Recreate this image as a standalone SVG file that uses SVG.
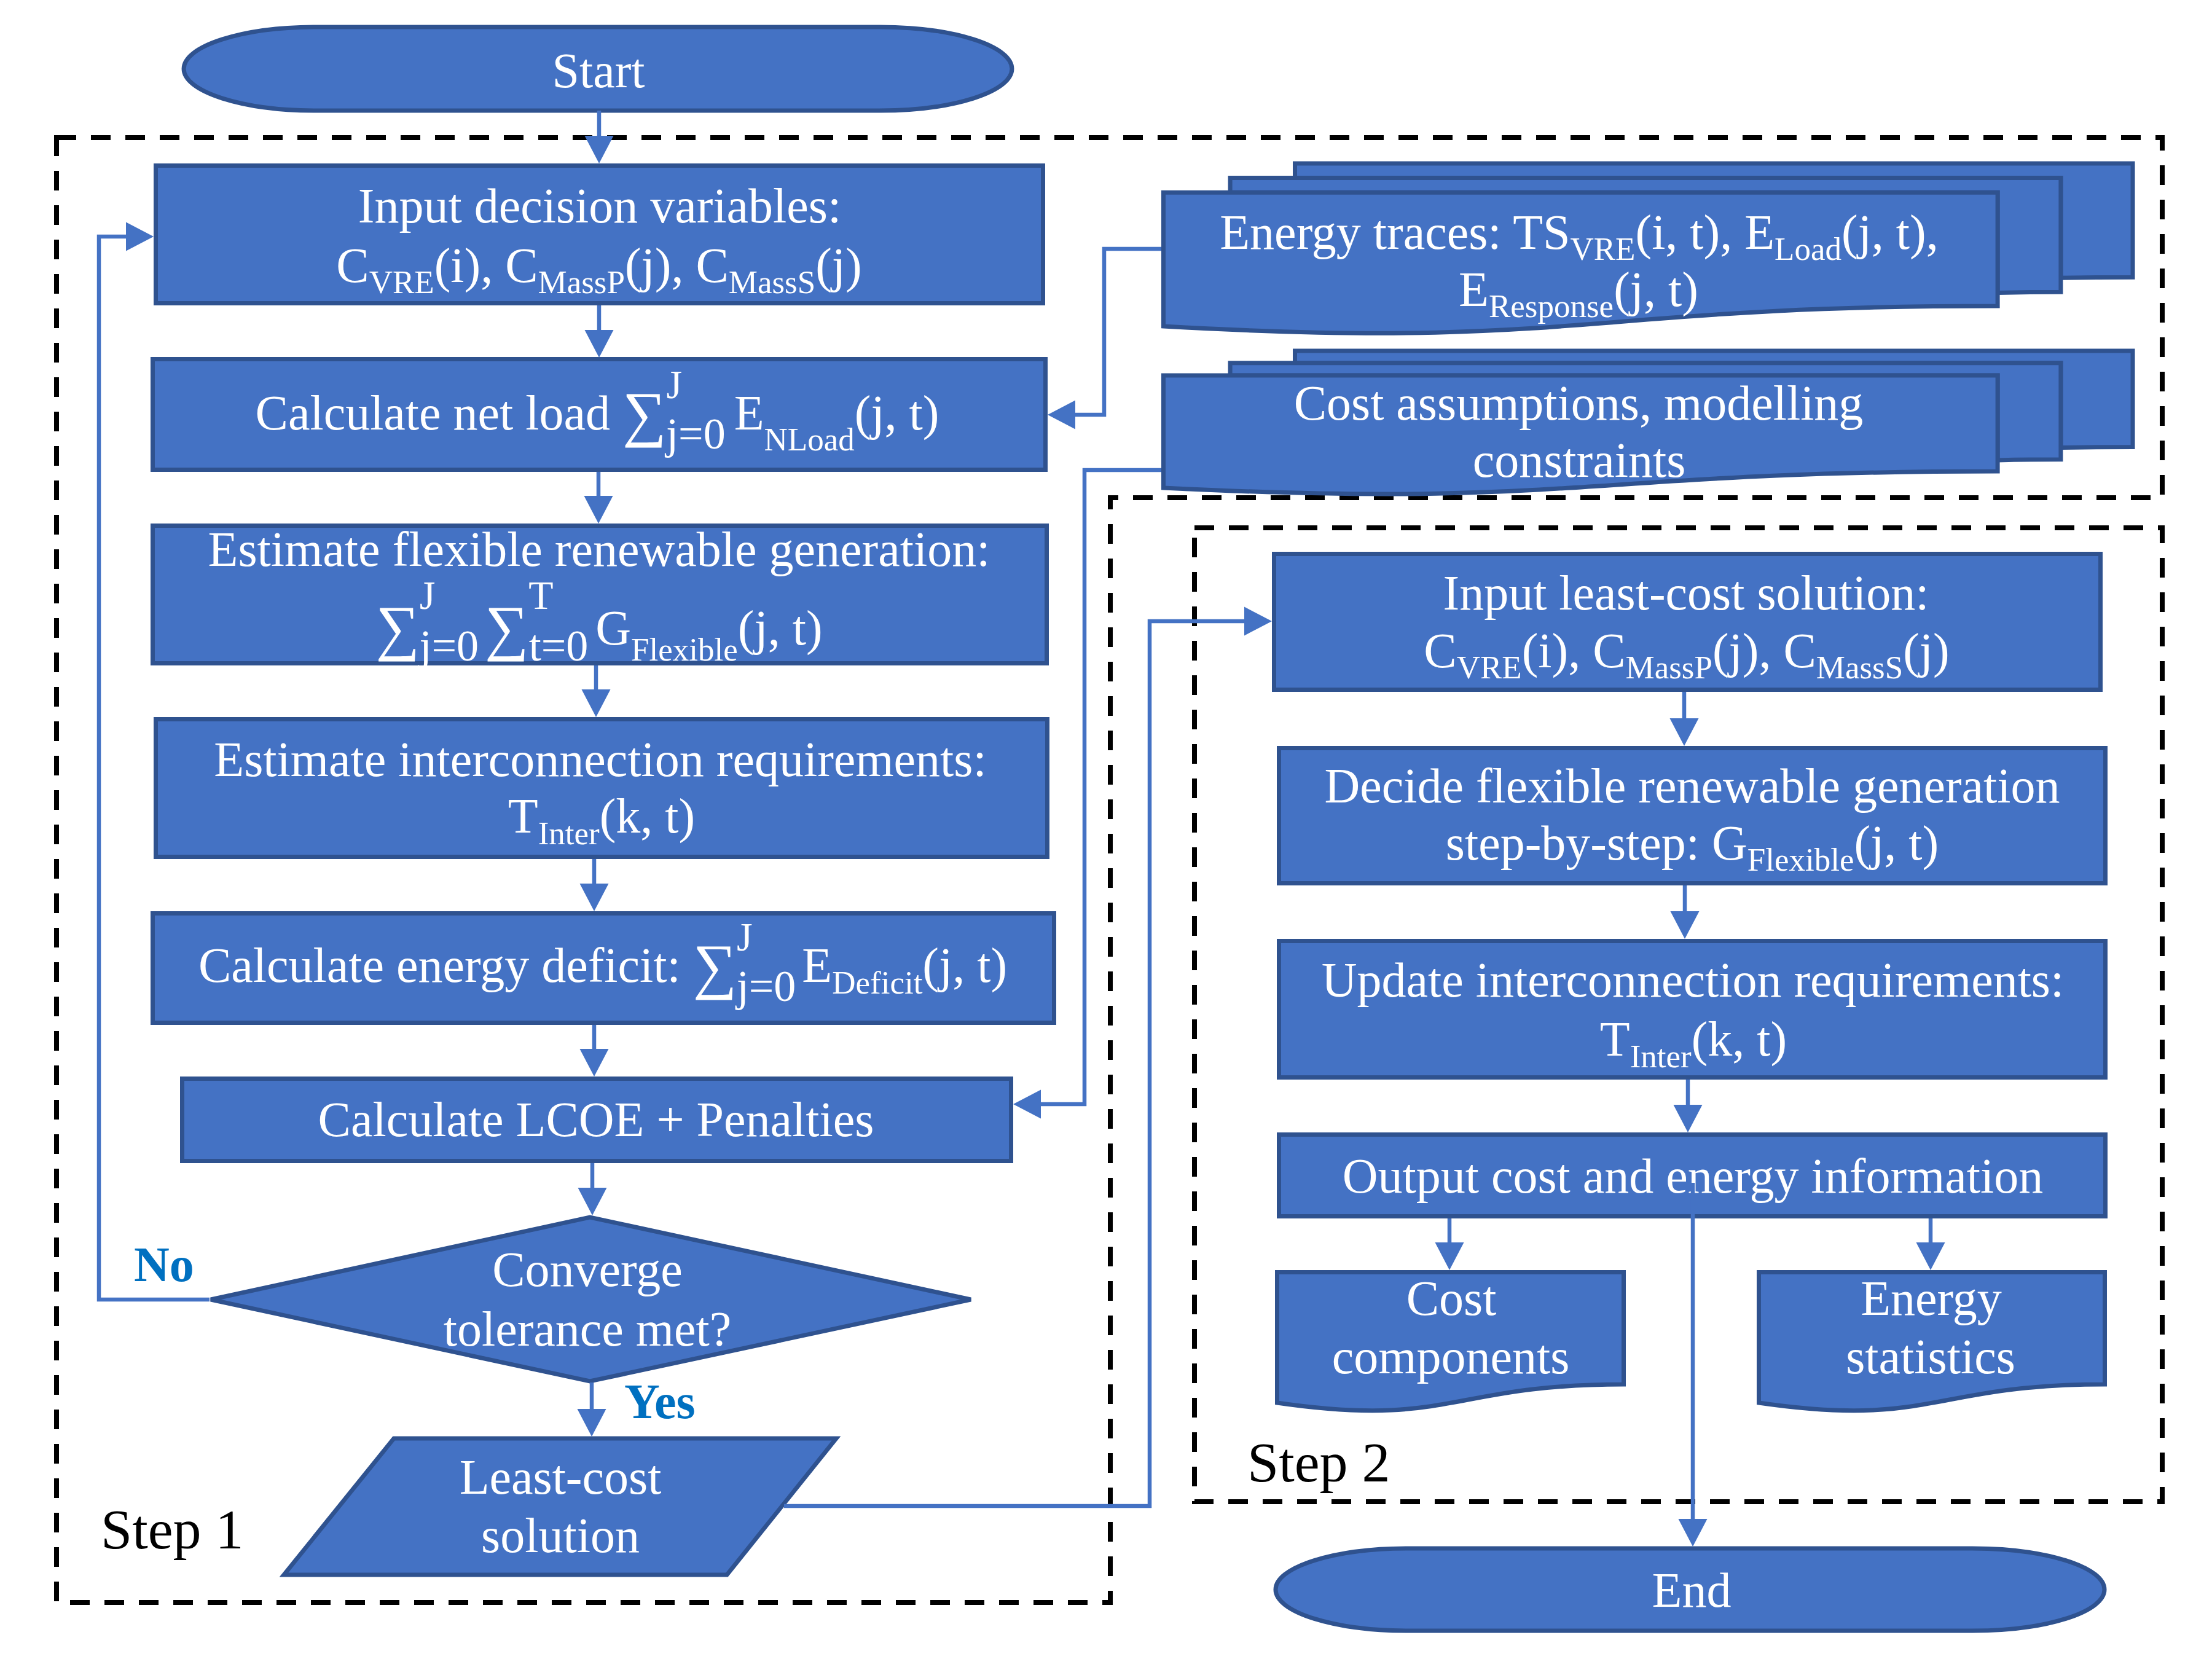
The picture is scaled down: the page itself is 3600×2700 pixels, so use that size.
<svg xmlns="http://www.w3.org/2000/svg" width="3600" height="2700" viewBox="0 0 3600 2700">
  <style>
    .node { fill: #4472C4; stroke: #2F528F; stroke-width: 7; }
    .t { font-family: "Liberation Serif", "Times New Roman", serif; font-size: 80px; fill: #ffffff; text-anchor: middle; }
    .s { font-size: 53px; }
    .sup { font-size: 66px; }
    .lim { font-size: 72px; }
    .big { font-size: 100px; }
    .step { font-family: "Liberation Serif", "Times New Roman", serif; font-size: 92px; fill: #000000; }
    .lbl { font-family: "Liberation Serif", "Times New Roman", serif; font-size: 80px; font-weight: bold; fill: #0070C0; }
    .frame { fill: none; stroke: #000000; stroke-width: 8; stroke-dasharray: 32 24; }
    .conn { fill: none; stroke: #4472C4; stroke-width: 6.5; marker-end: url(#ah); }
  </style>
  <defs>
    <marker id="ah" markerUnits="userSpaceOnUse" markerWidth="50" markerHeight="50" refX="25" refY="23.5" orient="auto" overflow="visible">
      <path d="M0,0 L45,23.5 L0,47 Z" fill="#4472C4"/>
    </marker>
  </defs>
  <rect width="3600" height="2700" fill="#ffffff"/>

  <!-- stage frames -->
  <g id="frames">
    <path class="frame" d="M92,224 H3519 V810 H1807 V2608 H92 Z"/>
    <rect class="frame" x="1944" y="859" width="1575" height="1585"/>
    <text class="step" x="164" y="2520">Step 1</text>
    <text class="step" x="2030" y="2411">Step 2</text>
  </g>

  <!-- step 1 -->
  <g id="start">
    <path class="node" d="M514,44 H1432 A215 68 0 0 1 1432,180 H514 A215 68 0 0 1 514,44 Z"/>
    <text class="t" x="974" y="142">Start</text>
  </g>

  <g id="input-decision">
    <rect class="node" x="253.5" y="269.5" width="1444" height="224"/>
    <text class="t" x="976" y="362">Input decision variables:</text>
    <text class="t" x="975" y="459">C<tspan class="s" dy="18">VRE</tspan><tspan dy="-18">(i), C</tspan><tspan class="s" dy="18">MassP</tspan><tspan dy="-18">(j), C</tspan><tspan class="s" dy="18">MassS</tspan><tspan dy="-18">(j)</tspan></text>
  </g>

  <g id="net-load">
    <rect class="node" x="248.5" y="584.5" width="1453" height="180"/>
    <text class="t" x="972" y="699">Calculate net load <tspan class="big" dy="8">∑</tspan><tspan class="sup" dy="-59">J</tspan><tspan class="lim" dx="-26" dy="82">j=0</tspan><tspan dx="14" dy="-31">E</tspan><tspan class="s" dy="34">NLoad</tspan><tspan dy="-34">(j, t)</tspan></text>
  </g>

  <g id="flex-gen">
    <rect class="node" x="248.5" y="855.5" width="1455" height="224"/>
    <text class="t" x="975" y="921">Estimate flexible renewable generation:</text>
    <text class="t" x="975" y="1049"><tspan class="big" dy="6">∑</tspan><tspan class="sup" dy="-64">J</tspan><tspan class="lim" dx="-26" dy="84">j=0</tspan><tspan class="big" dx="10" dy="-20">∑</tspan><tspan class="sup" dy="-64">T</tspan><tspan class="lim" dx="-40" dy="84">t=0</tspan><tspan dx="12" dy="-26">G</tspan><tspan class="s" dy="26">Flexible</tspan><tspan dy="-26">(j, t)</tspan></text>
  </g>

  <g id="interconnection">
    <rect class="node" x="253.5" y="1170.5" width="1451" height="224"/>
    <text class="t" x="977" y="1263">Estimate interconnection requirements:</text>
    <text class="t" x="979" y="1355">T<tspan class="s" dy="19">Inter</tspan><tspan dy="-19">(k, t)</tspan></text>
  </g>

  <g id="deficit">
    <rect class="node" x="248.5" y="1486.5" width="1467" height="178"/>
    <text class="t" x="981" y="1598">Calculate energy deficit: <tspan class="big" dy="8">∑</tspan><tspan class="sup" dy="-59">J</tspan><tspan class="lim" dx="-26" dy="82">j=0</tspan><tspan dx="10" dy="-31">E</tspan><tspan class="s" dy="19">Deficit</tspan><tspan dy="-19">(j, t)</tspan></text>
  </g>

  <g id="lcoe">
    <rect class="node" x="296.5" y="1755.5" width="1349" height="134"/>
    <text class="t" x="970" y="1849">Calculate LCOE + Penalties</text>
  </g>

  <g id="converge">
    <polygon class="node" points="343,2115 960,1981 1580,2115 960,2248"/>
    <text class="t" x="956" y="2093">Converge</text>
    <text class="t" x="956" y="2190">tolerance met?</text>
  </g>

  <g id="least-cost">
    <polygon class="node" points="641,2341 1361,2341 1183,2563 462,2563"/>
    <text class="t" x="912" y="2431">Least-cost</text>
    <text class="t" x="912" y="2526">solution</text>
  </g>

  <!-- data inputs -->
  <g id="energy-traces">
    <path class="node" d="M2107.5,289.4 V266 H3471 V451.2 C3412.5,451.2 3353.9,452.2 3353.9,452.2 V289.4 Z"/>
    <path class="node" d="M2002.1,313.3 V289.4 H3353.9 V475.2 C3302.5,475.2 3251.1,476.5 3251.1,476.5 V313.3 Z"/>
    <path class="node" d="M1893.5,531 C2570.6,569.2 2570.6,497.9 3251.1,497.9 V313.3 H1893.5 Z"/>
    <text class="t" x="2570" y="405">Energy traces: TS<tspan class="s" dy="18">VRE</tspan><tspan dy="-18">(i, t), E</tspan><tspan class="s" dy="18">Load</tspan><tspan dy="-18">(j, t),</tspan></text>
    <text class="t" x="2569" y="498">E<tspan class="s" dy="18">Response</tspan><tspan dy="-18">(j, t)</tspan></text>
  </g>

  <g id="cost-assumptions">
    <path class="node" d="M2107.5,590.7 V571 H3471 V727.6 C3412.5,727.6 3353.9,728.4 3353.9,728.4 V590.7 Z"/>
    <path class="node" d="M2002.1,611 V590.7 H3353.9 V747.8 C3302.5,747.8 3251.1,748.9 3251.1,748.9 V611 Z"/>
    <path class="node" d="M1893.5,794 C2570.6,827.3 2570.6,767.1 3251.1,767.1 V611 H1893.5 Z"/>
    <text class="t" x="2569" y="683">Cost assumptions, modelling</text>
    <text class="t" x="2570" y="776">constraints</text>
  </g>

  <!-- step 2 -->
  <g id="input-least-cost">
    <rect class="node" x="2073.5" y="901.5" width="1345" height="221"/>
    <text class="t" x="2744" y="992">Input least-cost solution:</text>
    <text class="t" x="2745" y="1086">C<tspan class="s" dy="18">VRE</tspan><tspan dy="-18">(i), C</tspan><tspan class="s" dy="18">MassP</tspan><tspan dy="-18">(j), C</tspan><tspan class="s" dy="18">MassS</tspan><tspan dy="-18">(j)</tspan></text>
  </g>

  <g id="decide-flex">
    <rect class="node" x="2081.5" y="1217.5" width="1345" height="220"/>
    <text class="t" x="2754" y="1306">Decide flexible renewable generation</text>
    <text class="t" x="2754" y="1399">step-by-step: G<tspan class="s" dy="18">Flexible</tspan><tspan dy="-18">(j, t)</tspan></text>
  </g>

  <g id="update-inter">
    <rect class="node" x="2081.5" y="1531.5" width="1345" height="222"/>
    <text class="t" x="2755" y="1622">Update interconnection requirements:</text>
    <text class="t" x="2756" y="1718">T<tspan class="s" dy="19">Inter</tspan><tspan dy="-19">(k, t)</tspan></text>
  </g>

  <g id="output">
    <rect class="node" x="2081.5" y="1846.5" width="1345" height="133"/>
    <text class="t" x="2755" y="1941">Output cost and energy information</text>
  </g>

  <g id="cost-components">
    <path class="node" d="M2078.5,2070.5 H2642.5 V2253 C2360.5,2253 2360.5,2324 2078.5,2283 Z"/>
    <text class="t" x="2362" y="2140">Cost</text>
    <text class="t" x="2361" y="2235">components</text>
  </g>

  <g id="energy-statistics">
    <path class="node" d="M2862.5,2070.5 H3425.5 V2253 C3144,2253 3144,2324 2862.5,2283 Z"/>
    <text class="t" x="3143" y="2140">Energy</text>
    <text class="t" x="3142" y="2235">statistics</text>
  </g>

  <g id="end">
    <path class="node" d="M2291,2520 H3210 A215 67 0 0 1 3210,2654 H2291 A215 67 0 0 1 2291,2520 Z"/>
    <text class="t" x="2753" y="2615">End</text>
  </g>

  <!-- connectors -->
  <g id="connectors">
    <path class="conn" d="M975,180 V246"/>
    <path class="conn" d="M975,497 V562"/>
    <path class="conn" d="M974,768 V832"/>
    <path class="conn" d="M970,1083 V1147"/>
    <path class="conn" d="M967,1398 V1463"/>
    <path class="conn" d="M967,1668 V1732"/>
    <path class="conn" d="M964,1893 V1958"/>
    <path class="conn" d="M963,2250 V2318"/>
    <path class="conn" d="M341,2115 H161 V385 H230"/>
    <path class="conn" d="M1890,405 H1797 V675 H1725"/>
    <path class="conn" d="M1890,765 H1765 V1797 H1669"/>
    <path class="conn" d="M1276,2451 H1871 V1011 H2050"/>
    <path class="conn" d="M2741,1126 V1194"/>
    <path class="conn" d="M2742,1441 V1508"/>
    <path class="conn" d="M2747,1757 V1823"/>
    <path class="conn" d="M2359,1983 V2047"/>
    <path class="conn" d="M3142,1983 V2047"/>
    <path class="conn" d="M2755,1925 V2497"/>
    <text class="lbl" x="218" y="2085">No</text>
    <text class="lbl" x="1016" y="2308">Yes</text>
  </g>
</svg>
